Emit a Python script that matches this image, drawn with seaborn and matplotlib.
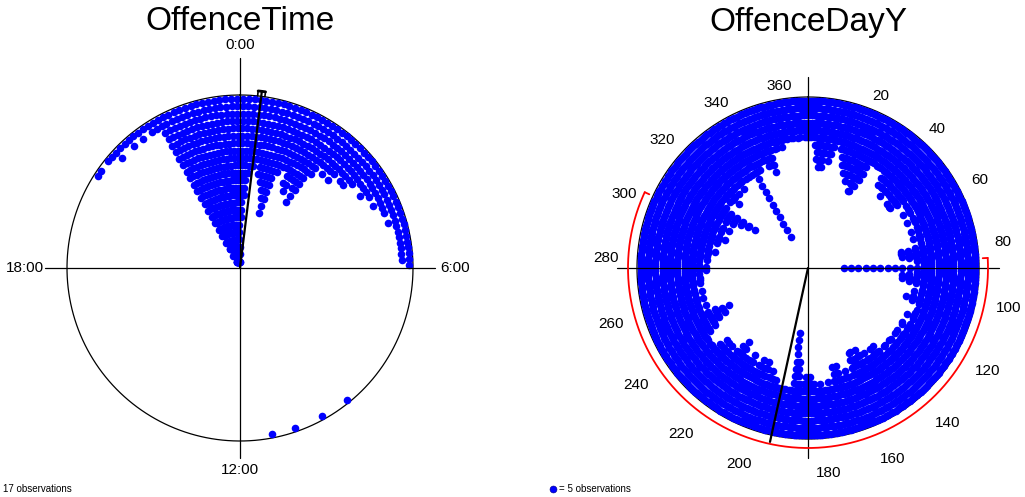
import numpy as np
import pandas as pd
import seaborn as sns
import matplotlib.pyplot as plt

# dots per 8-minute bin, starting at 0:00 and running clockwise
time_counts = [
    17, 14, 11, 10, 9, 11, 12, 13, 14, 16,
    10, 9, 9, 11, 12, 10, 11, 13, 8, 6,
    7, 6, 7, 5, 6, 6, 5, 4, 4, 5,
    4, 3, 4, 3, 3, 2, 3, 2, 2, 2,
    2, 2, 2, 2, 1, 0, 0, 0, 0, 0,
    0, 0, 0, 0, 0, 0, 0, 0, 0, 0,
    0, 0, 0, 0, 0, 0, 0, 0, 0, 0,
    1, 0, 0, 0, 0, 1, 0, 0, 0, 0,
    1, 0, 0, 0, 1, 0, 0, 0, 0, 0,
    0, 0, 0, 0, 0, 0, 0, 0, 0, 0,
    0, 0, 0, 0, 0, 0, 0, 0, 0, 0,
    0, 0, 0, 0, 0, 0, 0, 0, 0, 0,
    0, 0, 0, 0, 0, 0, 0, 0, 0, 0,
    0, 0, 0, 0, 0, 0, 0, 0, 0, 0,
    0, 0, 0, 0, 0, 0, 0, 0, 0, 0,
    0, 1, 1, 0, 1, 1, 2, 1, 1, 2,
    1, 2, 1, 2, 2, 23, 23, 23, 23, 23,
    23, 23, 23, 23, 23, 23, 23, 23, 23, 23,
]

# dots per day of year, day 1 .. 365 (one dot = 5 observations)
day_counts = [
    6, 6, 6, 7, 9, 10, 9, 10, 8, 7,
    9, 8, 7, 6, 6, 7, 7, 8, 9, 9,
    10, 9, 10, 11, 10, 9, 11, 12, 12, 11,
    10, 7, 7, 6, 7, 7, 7, 6, 7, 8,
    9, 8, 9, 9, 8, 10, 9, 8, 9, 8,
    9, 10, 9, 10, 10, 9, 7, 7, 8, 7,
    8, 9, 8, 7, 7, 8, 9, 8, 7, 7,
    8, 9, 8, 7, 8, 9, 8, 7, 8, 7,
    9, 11, 11, 10, 11, 10, 9, 9, 8, 7,
    8, 19, 8, 9, 10, 11, 10, 11, 10, 9,
    8, 7, 8, 9, 8, 7, 9, 10, 9, 8,
    7, 7, 8, 7, 8, 8, 9, 8, 7, 7,
    8, 9, 9, 8, 7, 8, 9, 8, 9, 8,
    7, 8, 9, 9, 8, 7, 9, 9, 8, 7,
    8, 9, 10, 9, 10, 9, 8, 9, 10, 9,
    8, 10, 11, 10, 9, 11, 11, 10, 9, 8,
    7, 8, 9, 8, 7, 8, 10, 9, 10, 8,
    7, 7, 8, 7, 7, 7, 8, 7, 7, 8,
    8, 9, 8, 9, 8, 7, 8, 11, 10, 15,
    7, 7, 6, 7, 7, 6, 7, 7, 8, 7,
    8, 9, 8, 7, 9, 10, 9, 8, 10, 9,
    8, 7, 8, 9, 10, 9, 8, 9, 8, 9,
    10, 11, 10, 9, 8, 7, 8, 9, 8, 9,
    8, 9, 8, 7, 7, 7, 6, 7, 7, 7,
    8, 9, 8, 9, 10, 11, 10, 11, 12, 10,
    8, 7, 8, 9, 8, 7, 8, 9, 8, 7,
    8, 9, 8, 7, 8, 9, 8, 9, 9, 8,
    9, 8, 10, 9, 10, 9, 8, 9, 10, 9,
    10, 9, 10, 11, 10, 9, 10, 9, 10, 11,
    10, 11, 12, 11, 9, 10, 11, 10, 11, 12,
    10, 9, 10, 11, 12, 11, 13, 12, 14, 15,
    10, 9, 8, 9, 10, 9, 10, 11, 10, 9,
    9, 10, 9, 8, 9, 10, 9, 9, 8, 9,
    8, 9, 8, 9, 8, 19, 9, 8, 9, 8,
    7, 8, 8, 9, 8, 9, 10, 7, 6, 7,
    7, 6, 7, 6, 6, 6, 5, 6, 6, 5,
    6, 6, 5, 6, 6,
]
assert len(time_counts) == 180 and len(day_counts) == 365

time_labels = ["0:00", "6:00", "12:00", "18:00"]
day_ticks = [20, 40, 60, 80, 100, 120, 140, 160, 180,
             200, 220, 240, 260, 280, 300, 320, 340, 360]

time_mean = 0.47          # hours
day_mean = 195            # day of year
day_ci = [88, 299]        # day of year

W, H = 1025, 497
sns.set_style("white")
plt.rcParams["font.family"] = ["Liberation Sans", "DejaVu Sans"]
plt.rcParams["text.color"] = "black"

fig = plt.figure(figsize=(W / 100, H / 100), dpi=100)


def make_ax(cx, cy, half=235):
    ax = fig.add_axes([(cx - half) / W, (H - cy - half) / H, 2 * half / W, 2 * half / H])
    ax.set_xlim(-half, half)
    ax.set_ylim(-half, half)
    ax.axis("off")
    return ax


def dot_frame(counts, r_out, step):
    n = len(counts)
    xs, ys = [], []
    for i, c in enumerate(counts):
        a = np.deg2rad((i + 0.5) * 360 / n)
        for k in range(c):
            r = r_out - k * step
            if r < 2:
                break
            xs.append(r * np.sin(a))
            ys.append(r * np.cos(a))
    return pd.DataFrame({"x": xs, "y": ys})


def polar(r, deg):
    t = np.deg2rad(deg)
    return r * np.sin(t), r * np.cos(t)


def draw_base(ax, R, up, down, side):
    t = np.linspace(0, 360, 400)
    x, y = polar(R, t)
    ax.plot(x, y, color="black", lw=0.9, zorder=1)
    ax.plot([0, 0], [-down, up], color="black", lw=0.9, zorder=3)
    ax.plot([-side, side], [0, 0], color="black", lw=0.9, zorder=3)


# ---- OffenceTime ----
ax1 = make_ax(240, 268)
R1 = 173
draw_base(ax1, R1, 210, 190, 195)
d1 = dot_frame(time_counts, R1 - 3.7, 7.4)
sns.scatterplot(data=d1, x="x", y="y", ax=ax1, s=30, color="#0000ff",
                linewidth=0, legend=False, zorder=2)
a = time_mean * 15
ax1.plot(*zip((0, 0), polar(178, a)), color="black", lw=1.6, zorder=4)
arc = np.linspace(a - 1.2, a + 1.2, 10)
ax1.plot(*polar(178, arc), color="black", lw=2, zorder=4)
for e in (a - 1.2, a + 1.2):
    ax1.plot(*zip(polar(178, e), polar(173, e)), color="black", lw=1.2, zorder=4)
ax1.set_xlim(-235, 235)
ax1.set_ylim(-235, 235)
ax1.text(0, 223, time_labels[0], ha="center", va="center", fontsize=11)
ax1.text(215, 0, time_labels[1], ha="center", va="center", fontsize=11)
ax1.text(0, -202, time_labels[2], ha="center", va="center", fontsize=11)
ax1.text(-215, 0, time_labels[3], ha="center", va="center", fontsize=11)

# ---- OffenceDayY ----
ax2 = make_ax(808, 268)
R2 = 171
draw_base(ax2, R2, 191, 190, 191)
d2 = dot_frame(day_counts, R2 - 3.7, 7.3)
sns.scatterplot(data=d2, x="x", y="y", ax=ax2, s=30, color="#0000ff",
                linewidth=0, legend=False, zorder=2)
m = day_mean / 365 * 360
ax2.plot(*zip((0, 0), polar(178, m)), color="black", lw=1.6, zorder=4)
c0, c1 = [d / 365 * 360 for d in day_ci]
arc = np.linspace(c0, c1, 200)
ax2.plot(*polar(180, arc), color="red", lw=1.3, zorder=4)
for e in (c0, c1):
    ax2.plot(*zip(polar(180, e), polar(175, e)), color="red", lw=1.3, zorder=4)
for v in day_ticks:
    ang = v / 365 * 360
    x, y = polar(190, ang)
    y -= 4 * (1 - np.cos(np.deg2rad(ang)))
    ha = "left" if 0 < ang < 180 else "right"
    ax2.text(x, y, str(v), ha=ha, va="top", fontsize=11)
ax2.set_xlim(-235, 235)
ax2.set_ylim(-235, 235)

# legend dot for the right chart
ax2.plot([553 - 808], [268 - 489], marker="o", ms=5, color="#0000ff",
         mec="#000080", mew=0.4, clip_on=False)

fig.text(240 / W, 1 - 22 / H, "OffenceTime", ha="center", va="center", fontsize=24)
fig.text(808 / W, 1 - 22 / H, "OffenceDayY", ha="center", va="center", fontsize=24)
fig.text(3 / W, 1 - 489 / H, "17 observations", ha="left", va="center", fontsize=7)
fig.text(559 / W, 1 - 489 / H, "= 5 observations", ha="left", va="center", fontsize=7)

fig.savefig("out.png", dpi=100)
